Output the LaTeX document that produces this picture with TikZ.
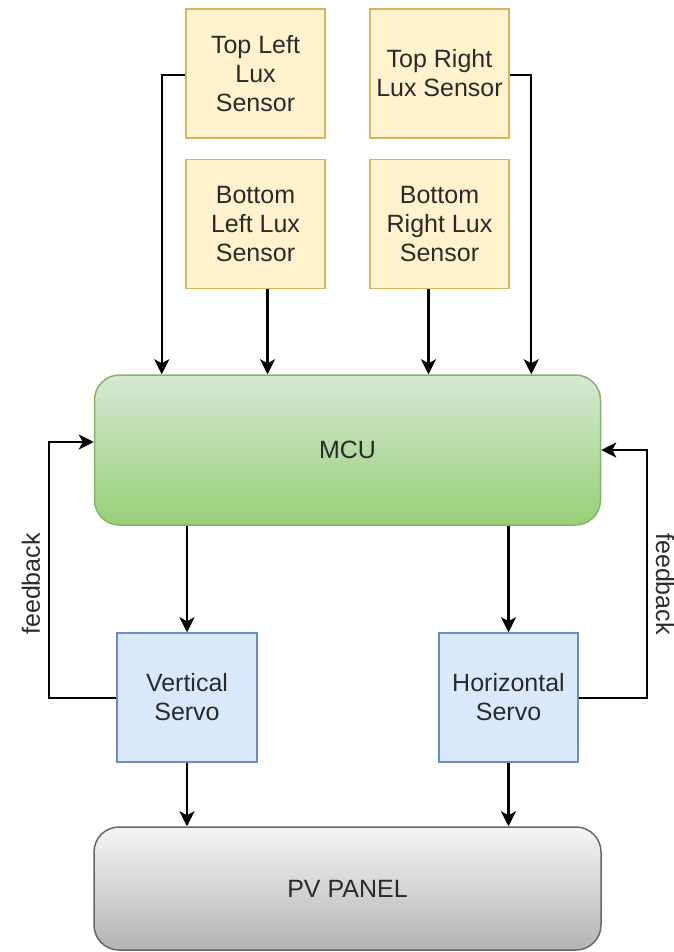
\documentclass[tikz,border=0pt]{standalone}
\usepackage{fontspec}
\setmainfont{Liberation Sans}
\usetikzlibrary{arrows.meta,calc}
\definecolor{sensfill}{HTML}{FFF2CC}
\definecolor{sensdraw}{HTML}{D6B656}
\definecolor{mcutop}{HTML}{D5E8D4}
\definecolor{mcubot}{HTML}{97D077}
\definecolor{mcudraw}{HTML}{82B366}
\definecolor{servofill}{HTML}{DAE8FC}
\definecolor{servodraw}{HTML}{6C8EBF}
\definecolor{pvtop}{HTML}{F5F5F5}
\definecolor{pvbot}{HTML}{B3B3B3}
\definecolor{pvdraw}{HTML}{666666}
\definecolor{txt}{HTML}{2A2A2A}
\tikzset{
  x=1pt, y=-1pt,
  every node/.style={font=\fontsize{25}{29}\selectfont, text=txt, align=center, inner sep=0pt},
  sensor/.style={draw=sensdraw, fill=sensfill, line width=1.5pt, minimum width=139pt, minimum height=129pt},
  servo/.style={draw=servodraw, fill=servofill, line width=1.5pt, minimum width=140pt, minimum height=129pt},
  mcubox/.style={draw=mcudraw, top color=mcutop, bottom color=mcubot, line width=1.5pt, rounded corners=25pt, minimum width=506pt, minimum height=150pt},
  pvbox/.style={draw=pvdraw, top color=pvtop, bottom color=pvbot, line width=1.5pt, rounded corners=25pt, minimum width=507pt, minimum height=123pt},
  arr/.style={draw=black, line width=2.2pt, -{Stealth[length=15pt,width=15pt,inset=4pt]}}
}
\begin{document}
\begin{tikzpicture}
\useasboundingbox (0,0) rectangle (673,952);
\node[sensor] (TL) at (255.5,73.5) {Top Left\\Lux\\Sensor};
\node[sensor] (TR) at (439.5,73.5) {Top Right\\Lux Sensor};
\node[sensor] (BL) at (255.5,224) {Bottom\\Left Lux\\Sensor};
\node[sensor] (BR) at (439.5,224) {Bottom\\Right Lux\\Sensor};
\node[mcubox] (MCU) at (347.5,450) {MCU};
\node[servo] (VS) at (187,697.5) {Vertical\\Servo};
\node[servo, minimum width=139pt] (HS) at (508.5,697.5) {Horizontal\\Servo};
\node[pvbox] (PV) at (347.5,888.5) {PV PANEL};

\draw[arr] ([yshift=-1.5pt]TL.west) -| ([xshift=68pt]MCU.north west);
\draw[arr] ([yshift=-1.5pt]TR.east) -| ([xshift=-70pt]MCU.north east);
\draw[arr] ([xshift=12pt]BL.south) -- ([xshift=12pt]BL.south |- MCU.north);
\draw[arr] ([xshift=-11pt]BR.south) -- ([xshift=-11pt]BR.south |- MCU.north);

\draw[arr] (VS.north |- MCU.south) -- (VS.north);
\draw[arr] (HS.north |- MCU.south) -- (HS.north);
\draw[arr] (VS.south) -- (VS.south |- PV.north);
\draw[arr] (HS.south) -- (HS.south |- PV.north);

\coordinate (fl) at (49,698);
\coordinate (fr) at (647,698);
\draw[arr] (VS.west |- fl) -- (fl) |- ([yshift=8pt]MCU.west);
\draw[arr] (HS.east |- fr) -- (fr) |- (MCU.east);

\node[rotate=90] (fbl) at (31,584) {feedback};
\node[rotate=-90] (fbr) at (665,584) {feedback};
\end{tikzpicture}
\end{document}
